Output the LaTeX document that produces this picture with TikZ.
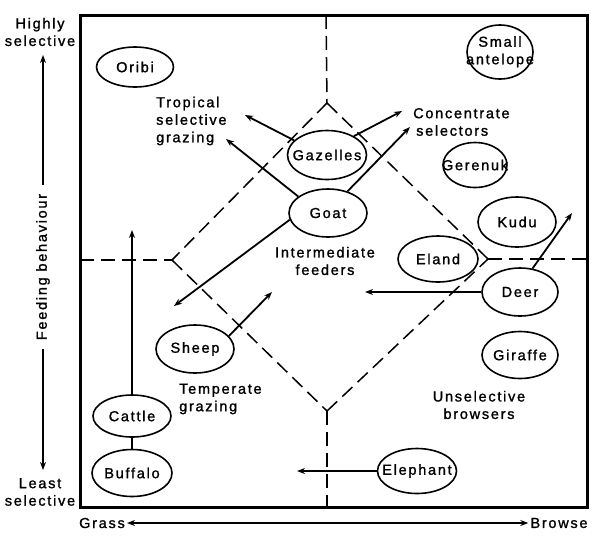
\documentclass[tikz,border=0pt]{standalone}
\usepackage{fontspec}
\setmainfont{Liberation Sans}[LetterSpace=12,FakeBold=1.3]
\usetikzlibrary{shapes.geometric,arrows.meta}
\newcommand\zb[1]{\makebox[0pt]{#1}}
\begin{document}
\begin{tikzpicture}[x=1pt,y=-1pt,
  font=\fontsize{14.5}{17.5}\selectfont,
  el/.style={ellipse,draw,line width=1.6pt,inner sep=0pt},
  con/.style={line width=1.8pt,-{Stealth[length=8pt,width=6pt]}},
  plain/.style={line width=1.8pt},
  dsh/.style={line width=1.5pt,dash pattern=on 14pt off 7pt},
  lbl/.style={inner sep=0pt}]
\useasboundingbox (0,0) rectangle (599,542);
% frame
\draw[line width=3pt] (80,15) rectangle (587,507);
% quadrant / diamond coordinates
\coordinate (vt0) at (326,15);
\coordinate (dtop) at (327,103);
\coordinate (dleft) at (172,260);
\coordinate (dbot) at (327,411);
\coordinate (dright) at (488,259);
\coordinate (hl0) at (80,260);
\coordinate (hr0) at (587,259);
\coordinate (vb0) at (327,507);
\draw[dsh] (vt0) -- (dtop);
\draw[dsh] (hl0) -- (dleft);
\draw[dsh] (dright) -- (hr0);
\draw[dsh] (dbot) -- (vb0);
\draw[dsh] (dtop) -- (dleft);
\draw[dsh] (dleft) -- (dbot);
\draw[dsh] (dbot) -- (dright);
\draw[dsh] (dright) -- (dtop);
% animals
\node[el,minimum width=77pt,minimum height=40pt] (oribi) at (135,67) {\zb{Oribi}};
\node[el,minimum width=66pt,minimum height=54pt] (small) at (500,52) {\zb{\begin{tabular}{@{}c@{}}Small\\antelope\end{tabular}}};
\node[el,minimum width=79pt,minimum height=49pt] (gaz) at (327,155) {\zb{Gazelles}};
\node[el,minimum width=78pt,minimum height=48pt] (goat) at (328,213) {\zb{Goat}};
\node[el,minimum width=64pt,minimum height=45pt] (ger) at (475,165) {\zb{Gerenuk}};
\node[el,minimum width=78pt,minimum height=50pt] (kudu) at (517,222) {\zb{Kudu}};
\node[el,minimum width=80pt,minimum height=46pt] (eland) at (438,259) {\zb{Eland}};
\node[el,minimum width=76pt,minimum height=48pt] (deer) at (520,292) {\zb{Deer}};
\node[el,minimum width=76pt,minimum height=47pt] (gir) at (520,355) {\zb{Giraffe}};
\node[el,minimum width=79pt,minimum height=45pt] (eleph) at (417,471) {\zb{Elephant}};
\node[el,minimum width=78pt,minimum height=48pt] (sheep) at (195,349) {\zb{Sheep}};
\node[el,minimum width=78pt,minimum height=42pt] (cattle) at (132,416) {\zb{Cattle}};
\node[el,minimum width=80pt,minimum height=47pt] (buff) at (132,473) {\zb{Buffalo}};
% labels
\node[lbl,anchor=west,align=left] (trop) at (156,121) {Tropical\\selective\\grazing};
\node[lbl,anchor=west,align=left] (conc) at (413,122) {Concentrate\\\hspace*{3pt}selectors};
\node[lbl,align=center] (inter) at (325,261) {Intermediate\\feeders};
\node[lbl,anchor=west,align=left] (temp) at (179,399) {Temperate\\grazing};
\node[lbl,align=center] (unsel) at (479,405) {Unselective\\browsers};
\node[lbl,align=center] (hs) at (40,32) {Highly\\selective};
\node[lbl,align=center] (ls) at (40,492) {Least\\selective};
\node[inner sep=2pt] (grass) at (102,523) {Grass};
\node[inner sep=2pt] (browse) at (559,523) {Browse};
% arrow end points
\coordinate (t1) at (245,115);
\coordinate (t2) at (226,139);
\coordinate (c1) at (402,111);
\coordinate (c2) at (410,127);
\coordinate (g3) at (174,306);
\coordinate (s1) at (272,292);
\coordinate (d1) at (365,292);
\coordinate (d2) at (572,213);
\coordinate (e1) at (297,471);
\coordinate (ct) at (132,230);
% connectors
\draw[con] (gaz.156) -- (t1);
\draw[con] (goat.151) -- (t2);
\draw[con] (gaz.35) -- (c1);
\draw[con] (goat.48) -- (c2);
\draw[con] (goat.190) -- (g3);
\draw[con] (sheep.21) -- (s1);
\draw[con] (deer.west) -- (d1);
\draw[con] (deer.62) -- (d2);
\draw[con] (eleph.west) -- (e1);
\draw[con] (cattle.north) -- (ct);
\draw[plain] (cattle.south) -- (buff.north);
% axes
\coordinate (vtop) at (43,55);
\coordinate (vbot) at (43,470);
\draw[line width=1.8pt,{Stealth[length=8pt,width=6pt]}-{Stealth[length=8pt,width=6pt]}] (vtop) -- (vbot);
\node[fill=white,rotate=90,inner xsep=9pt,inner ysep=2pt] (fb) at (43,267) {Feeding behaviour};
\draw[line width=1.8pt,{Stealth[length=8pt,width=6pt]}-{Stealth[length=8pt,width=6pt]}] (grass) -- (browse);
\end{tikzpicture}
\end{document}
